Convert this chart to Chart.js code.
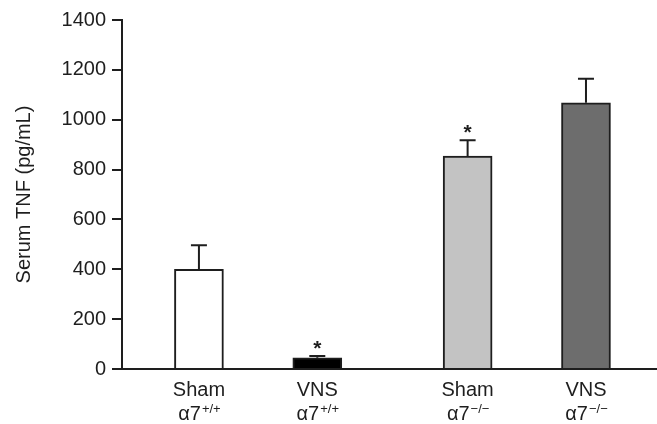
<!DOCTYPE html>
<html>
<head>
<meta charset="utf-8">
<script src="https://cdn.jsdelivr.net/npm/chart.js@4"></script>
<style>
  html, body { margin: 0; padding: 0; background: #fff; }
  #wrap { width: 657px; height: 424px; }
</style>
</head>
<body>
<div id="wrap"><canvas id="tnfChart"></canvas></div>
<script>
// data
const treatments = ['Sham', 'VNS', 'Sham', 'VNS'];
const genotypes = ['+/+', '+/+', '\u2212/\u2212', '\u2212/\u2212'];
const groupPositions = [1, 2, 3.27, 4.27];
const tnfMeans = [400, 45, 854, 1068];
const tnfErrors = [96, 7, 64, 96];
const significant = [false, true, true, false];
const yMin = 0, yMax = 1400, yStep = 200;

const barColors = ['#ffffff', '#000000', '#c3c3c3', '#6d6d6d'];
const ink = '#1e1e1e';
const fontFamily = "'Liberation Sans', Arial, Helvetica, sans-serif";

// error bars + asterisks
const errorBars = {
  id: 'errorBars',
  afterDatasetsDraw(chart) {
    const ctx = chart.ctx;
    const y = chart.scales.y;
    const meta = chart.getDatasetMeta(0);
    ctx.save();
    ctx.strokeStyle = ink;
    ctx.lineWidth = 2;
    meta.data.forEach((bar, i) => {
      const top = y.getPixelForValue(tnfMeans[i] + tnfErrors[i]);
      ctx.beginPath();
      ctx.moveTo(bar.x, bar.y);
      ctx.lineTo(bar.x, top);
      ctx.moveTo(bar.x - 8, top);
      ctx.lineTo(bar.x + 8, top);
      ctx.stroke();
      if (significant[i]) {
        ctx.fillStyle = ink;
        ctx.font = 'bold 21px ' + fontFamily;
        ctx.textAlign = 'center';
        ctx.textBaseline = 'alphabetic';
        ctx.fillText('*', bar.x, top - 1);
      }
    });
    ctx.restore();
  }
};

// two-line category labels with superscript genotype
const groupLabels = {
  id: 'groupLabels',
  afterDraw(chart) {
    const ctx = chart.ctx;
    const x = chart.scales.x;
    ctx.save();
    ctx.fillStyle = ink;
    ctx.textBaseline = 'alphabetic';
    groupPositions.forEach((pos, i) => {
      const cx = x.getPixelForValue(pos);
      ctx.font = '20px ' + fontFamily;
      ctx.textAlign = 'center';
      ctx.fillText(treatments[i], cx, 396);

      const base = '\u03b17';
      ctx.font = '20px ' + fontFamily;
      const wBase = ctx.measureText(base).width;
      ctx.font = '13px ' + fontFamily;
      const wSup = ctx.measureText(genotypes[i]).width;
      const start = cx - (wBase + wSup) / 2;
      ctx.textAlign = 'left';
      ctx.font = '20px ' + fontFamily;
      ctx.fillText(base, start, 420);
      ctx.font = '13px ' + fontFamily;
      ctx.fillText(genotypes[i], start + wBase + 1, 413);
    });
    ctx.restore();
  }
};

new Chart(document.getElementById('tnfChart'), {
  type: 'bar',
  data: {
    datasets: [{
      data: groupPositions.map((p, i) => ({ x: p, y: tnfMeans[i] })),
      backgroundColor: barColors,
      borderColor: ink,
      borderWidth: 2,
      barThickness: 49
    }]
  },
  options: {
    responsive: true,
    maintainAspectRatio: false,
    animation: false,
    layout: { padding: { top: 20, right: 0, bottom: 0, left: 0 } },
    plugins: { legend: { display: false }, tooltip: { enabled: false } },
    scales: {
      x: {
        type: 'linear',
        min: 0.35,
        max: 4.87,
        offset: false,
        ticks: { display: false },
        grid: { display: false },
        border: { display: true, color: ink, width: 2 },
        afterFit(scale) { scale.height = 55; }
      },
      y: {
        min: yMin,
        max: yMax,
        ticks: {
          stepSize: yStep,
          color: ink,
          padding: 6,
          font: { size: 20, family: fontFamily },
          callback: (v) => String(v)
        },
        grid: { drawOnChartArea: false, drawTicks: true, tickLength: 10, color: ink, lineWidth: 2 },
        border: { display: true, color: ink, width: 2 },
        title: {
          display: true,
          text: 'Serum TNF (pg/mL)',
          color: ink,
          font: { size: 20, family: fontFamily },
          padding: { top: 12, bottom: 0 }
        },
        afterFit(scale) { scale.width = 122; }
      }
    }
  },
  plugins: [errorBars, groupLabels]
});
</script>
</body>
</html>
